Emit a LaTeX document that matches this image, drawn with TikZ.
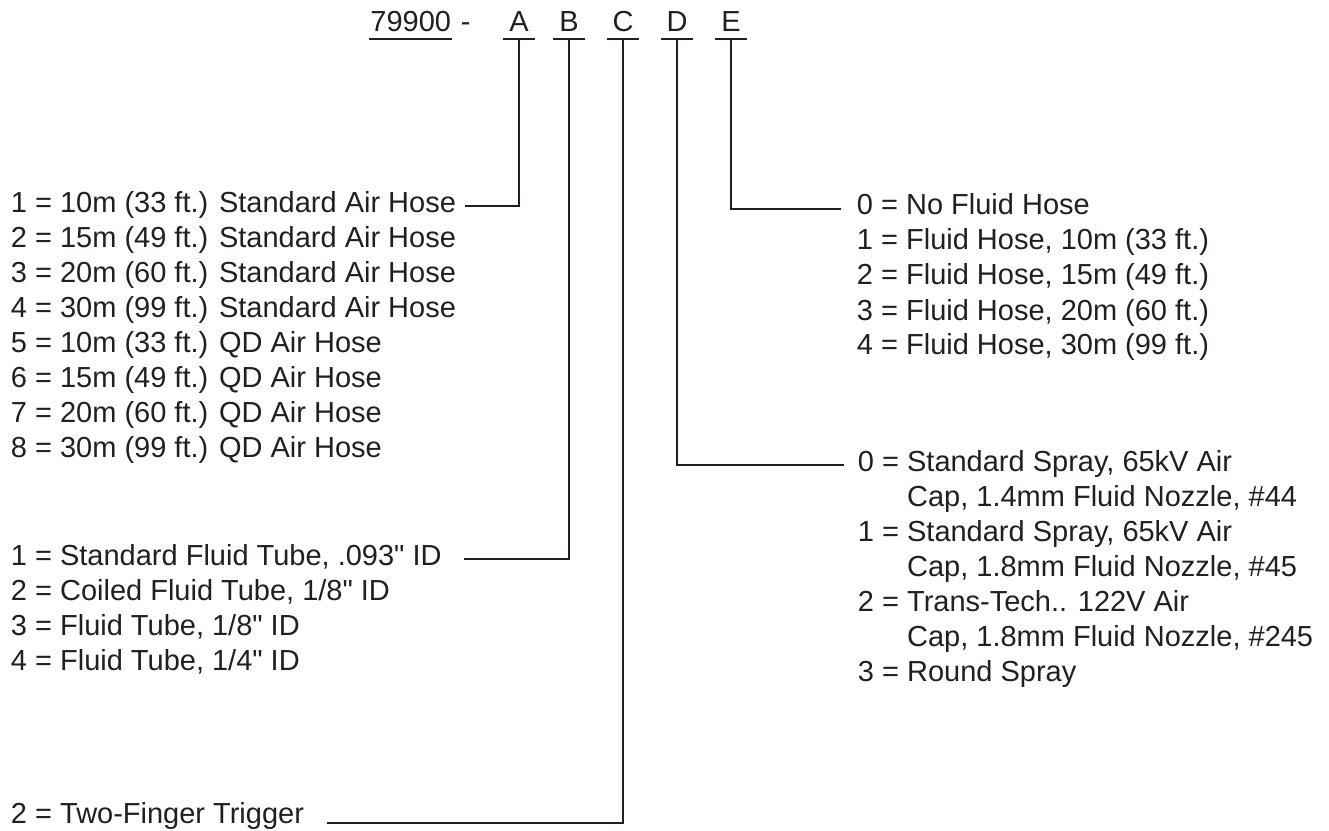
\documentclass[tikz,border=0pt]{standalone}
\usepackage{fontspec}
\setmainfont{Liberation Sans}
\newfontfamily\optfont{Liberation Sans}
\usepackage{xcolor}
\definecolor{colInk}{HTML}{231F20}
\usepackage{tikz}
\usetikzlibrary{positioning}

\tikzset{
    optline/.style={anchor=base west, inner sep=0pt, text height=0.7em, text depth=0pt,
        font=\optfont\fontsize{16.5}{20}\selectfont},
    codeletter/.style={anchor=base, inner sep=0pt, minimum width=0.6cm, text height=0.7em,
        text depth=0.12cm, font=\optfont\fontsize{16.5}{20}\selectfont}
}

\begin{document}
\begin{tikzpicture}[x=0.02cm, y=-0.02cm, color=colInk, line width=1.1pt]
        % Scale: 1px -> 0.02cm, y runs downward
        \useasboundingbox (0,0) rectangle (1329,831);
        % Part number
        \node[optline, anchor=base east, text depth=0.12cm] (code) at (452,32) {79900};
        \draw (code.south west) -- (code.south east);
        \node[optline, base right=0.16cm of code] (dash) {-};
        \foreach \ltr/\xx in {A/519, B/569, C/623, D/677, E/731} {
            \node[codeletter] (\ltr) at (\xx,32) {\ltr};
            \draw (\ltr.south west) -- (\ltr.south east);
        }
        % A: air hose
        \foreach \txt [count=\i] in {{1 = 10m (33 ft.) Standard Air Hose},
            {2 = 15m (49 ft.) Standard Air Hose}, {3 = 20m (60 ft.) Standard Air Hose},
            {4 = 30m (99 ft.) Standard Air Hose}, {5 = 10m (33 ft.) QD Air Hose},
            {6 = 15m (49 ft.) QD Air Hose}, {7 = 20m (60 ft.) QD Air Hose},
            {8 = 30m (99 ft.) QD Air Hose}}
            \node[optline] (a\i) at (10,{177.5+35*\i}) {\txt};
        % B: fluid tube
        \foreach \txt [count=\i] in {{1 = Standard Fluid Tube, .093" ID},
            {2 = Coiled Fluid Tube, 1/8" ID}, {3 = Fluid Tube, 1/8" ID},
            {4 = Fluid Tube, 1/4" ID}}
            \node[optline] (b\i) at (10,{530+35*\i}) {\txt};
        % C: trigger
        \node[optline] (c1) at (10,823) {2 = Two-Finger Trigger};
        % D: spray
        \foreach \txt [count=\i] in {{0 = Standard Spray, 65kV Air},
            {\phantom{0 = }Cap, 1.4mm Fluid Nozzle, \#44}, {1 = Standard Spray, 65kV Air},
            {\phantom{0 = }Cap, 1.8mm Fluid Nozzle, \#45}, {2 = Trans-Tech.. 122V Air},
            {\phantom{0 = }Cap, 1.8mm Fluid Nozzle, \#245}, {3 = Round Spray}}
            \node[optline] (d\i) at (857,{436.5+35*\i}) {\txt};
        % E: fluid hose
        \foreach \txt [count=\i] in {{0 = No Fluid Hose}, {1 = Fluid Hose, 10m (33 ft.)},
            {2 = Fluid Hose, 15m (49 ft.)}, {3 = Fluid Hose, 20m (60 ft.)},
            {4 = Fluid Hose, 30m (99 ft.)}}
            \node[optline] (e\i) at (856,{180+35*\i}) {\txt};
        % Leaders
        \draw (A.south) |- ([xshift=0.16cm]a1.east);
        \draw (B.south) |- ([xshift=0.42cm]b1.east);
        \draw (C.south) |- ([xshift=0.44cm]c1.base east);
        \draw (D.south) |- ([xshift=-0.26cm]d1.west);
        \draw (E.south) |- ([xshift=-0.3cm]e1.west);
    \end{tikzpicture}
\end{document}
